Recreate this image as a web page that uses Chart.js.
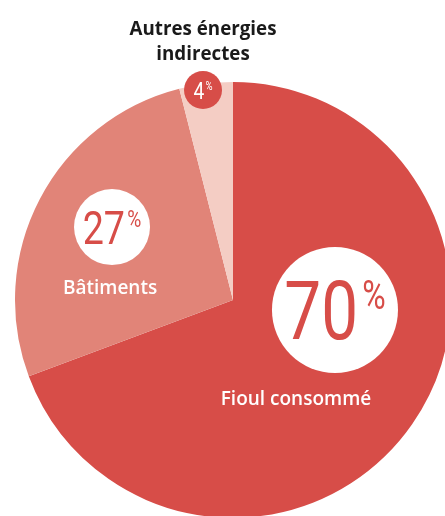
<!DOCTYPE html>
<html>
<head>
<meta charset="utf-8">
<script src="https://cdn.jsdelivr.net/npm/chart.js@4/dist/chart.umd.min.js"></script>
<style>
  html, body { margin: 0; padding: 0; width: 445px; height: 516px; overflow: hidden; background: #fff; }
  #wrap { position: absolute; left: 0; top: 0; width: 466px; height: 518px; }
</style>
</head>
<body>
<div id="wrap"><canvas id="c"></canvas></div>
<script>
const categories = ["Fioul consommé", "Bâtiments", "Autres énergies indirectes"];
const values = [70, 27, 4];
const valueLabels = ["70", "27", "4"];
const colors = ["#D74D48", "#E18478", "#F4CDC4"];

// label placement inside each slice: fraction of slice angle, fraction of radius
const placement = [
  { af: 0.383, rf: 0.47, r: 63, num: 82, pct: 40, circle: "#ffffff", text: "#D74D48",
    name: ["Fioul consommé"], nameDx: -39, nameDy: 90, nameColor: "#ffffff", nameSize: 19, nameWeight: 600 },
  { af: 0.536, rf: 0.648, r: 38, num: 47, pct: 24, circle: "#ffffff", text: "#D74D48",
    name: ["Bâtiments"], nameDx: -2, nameDy: 62, nameColor: "#ffffff", nameSize: 19, nameWeight: 600 },
  { af: 0.43, rf: 0.973, r: 19, num: 24, pct: 12, circle: "#D74D48", text: "#ffffff",
    name: ["Autres énergies", "indirectes"], nameDx: 0, nameDy: -61, nameColor: "#1a1a1a", nameSize: 20, nameWeight: 700 }
];

const NUMFONT = 'Roboto, "Noto Sans", sans-serif';
const TXTFONT = '"Open Sans", "Noto Sans", sans-serif';
const SQUEEZE = 0.8;

const labelPlugin = {
  id: 'sliceLabels',
  afterDatasetsDraw(chart) {
    const ctx = chart.ctx;
    const meta = chart.getDatasetMeta(0);
    meta.data.forEach((arc, i) => {
      const p = placement[i];
      const a = arc.startAngle + p.af * (arc.endAngle - arc.startAngle);
      const d = p.rf * arc.outerRadius;
      const cx = arc.x + Math.cos(a) * d;
      const cy = arc.y + Math.sin(a) * d;
      ctx.save();
      ctx.beginPath();
      ctx.arc(cx, cy, p.r, 0, Math.PI * 2);
      ctx.fillStyle = p.circle;
      ctx.fill();
      // number + superscript %
      ctx.font = `400 ${p.num}px ${NUMFONT}`;
      const wn = ctx.measureText(valueLabels[i]).width * SQUEEZE;
      ctx.font = `400 ${p.pct}px ${NUMFONT}`;
      const wp = ctx.measureText('%').width * SQUEEZE;
      const gap = p.num * 0.05;
      const x0 = cx - (wn + gap + wp) / 2;
      const capH = p.num * 0.71;
      const base = cy + capH / 2;
      ctx.fillStyle = p.text;
      ctx.textBaseline = 'alphabetic';
      ctx.textAlign = 'left';
      ctx.save();
      ctx.translate(x0, base);
      ctx.scale(SQUEEZE, 1);
      ctx.font = `400 ${p.num}px ${NUMFONT}`;
      ctx.fillText(valueLabels[i], 0, 0);
      ctx.restore();
      ctx.save();
      ctx.translate(x0 + wn + gap, base - capH + p.pct * 0.71);
      ctx.scale(SQUEEZE, 1);
      ctx.font = `400 ${p.pct}px ${NUMFONT}`;
      ctx.fillText('%', 0, 0);
      ctx.restore();
      // category name
      ctx.font = `${p.nameWeight} ${p.nameSize}px ${TXTFONT}`;
      ctx.fillStyle = p.nameColor;
      ctx.textAlign = 'center';
      ctx.textBaseline = 'middle';
      const lh = p.nameSize * 1.25;
      p.name.forEach((line, k) => {
        ctx.save();
        const tx = cx + p.nameDx, ty = cy + p.nameDy + k * lh;
        const w = ctx.measureText(line).width;
        const sq = p.nameWeight >= 700 ? Math.min(1, 147 / ctx.measureText(p.name[0]).width) : 1;
        ctx.translate(tx, ty);
        ctx.scale(sq, 1);
        ctx.fillText(line, 0, 0);
        ctx.restore();
      });
      ctx.restore();
    });
  }
};

new Chart(document.getElementById('c'), {
  type: 'pie',
  data: {
    labels: categories,
    datasets: [{
      data: values,
      backgroundColor: colors,
      borderWidth: 0,
      hoverOffset: 0
    }]
  },
  options: {
    responsive: true,
    maintainAspectRatio: false,
    animation: false,
    rotation: 0,
    layout: { padding: { left: 15, right: 15, top: 82, bottom: 0 } },
    plugins: { legend: { display: false }, tooltip: { enabled: false } }
  },
  plugins: [labelPlugin]
});
</script>
</body>
</html>
